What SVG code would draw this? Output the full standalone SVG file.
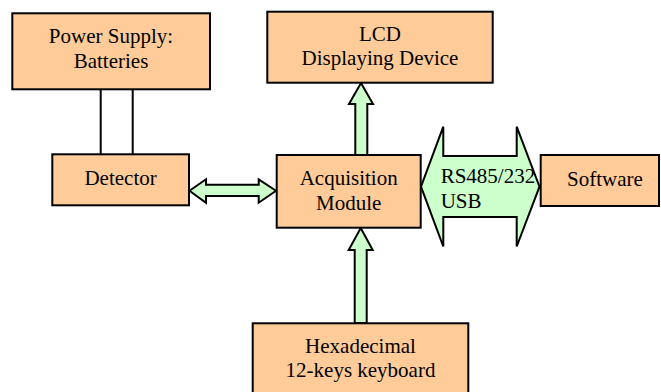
<svg xmlns="http://www.w3.org/2000/svg" width="661" height="392" viewBox="0 0 661 392">
<style>
.box{fill:#FFCC99;stroke:#000;stroke-width:2}
.arr{fill:#CCFFCC;stroke:#000;stroke-width:2;stroke-linejoin:miter}
.wire{fill:none;stroke:#000;stroke-width:2}
.c{text-anchor:middle}
</style>
<rect width="661" height="392" fill="#fff"/>
<g id="connectors">
<line class="wire" x1="100.7" y1="89" x2="100.7" y2="154"/>
<line class="wire" x1="132.7" y1="89" x2="132.7" y2="154"/>
<polygon class="arr" points="189.5,190.7 206,179.3 206,184.7 258.7,184.7 258.7,179.3 276,190.7 258.7,202.7 258.7,196 206,196 206,202.7"/>
<polygon class="arr" points="361,83 373,104 367.3,104 367.3,155 355.3,155 355.3,104 349,104"/>
<polygon class="arr" points="360.7,228 372.7,250 366.7,250 366.7,323 354.7,323 354.7,250 348.7,250"/>
<polygon class="arr" points="421,186.7 443.3,126.7 443.3,156 516.7,156 516.7,126.7 539.5,186.7 516.7,246.5 516.7,217 443.3,217 443.3,246.5"/>
</g>
<g id="power">
<rect class="box" x="12.3" y="13.3" width="197.7" height="76"/>
<text class="c" x="111" y="42.7" font-family="Liberation Serif" font-size="21">Power Supply:</text>
<text class="c" x="111" y="67.7" font-family="Liberation Serif" font-size="21">Batteries</text>
</g>
<g id="detector">
<rect class="box" x="52.3" y="154.3" width="136.7" height="51"/>
<text class="c" x="120.6" y="185" font-family="Liberation Serif" font-size="21">Detector</text>
</g>
<g id="lcd">
<rect class="box" x="267.3" y="11.7" width="225.4" height="71"/>
<text class="c" x="380" y="40.7" font-family="Liberation Serif" font-size="21">LCD</text>
<text class="c" x="380" y="65" font-family="Liberation Serif" font-size="21">Displaying Device</text>
</g>
<g id="acquisition">
<rect class="box" x="276.7" y="155" width="144" height="72.7"/>
<text class="c" x="348.7" y="185" font-family="Liberation Serif" font-size="21">Acquisition</text>
<text class="c" x="348.7" y="209.5" font-family="Liberation Serif" font-size="21">Module</text>
</g>
<g id="rs-label">
<text x="440.7" y="183.3" font-family="Liberation Serif" font-size="21">RS485/232</text>
<text x="440.7" y="208.3" font-family="Liberation Serif" font-size="21">USB</text>
</g>
<g id="software">
<rect class="box" x="540.7" y="155" width="118.3" height="51"/>
<text class="c" x="605" y="185.7" font-family="Liberation Serif" font-size="21">Software</text>
</g>
<g id="keyboard">
<rect class="box" x="252.7" y="323.3" width="215.6" height="75"/>
<text class="c" x="360.5" y="353" font-family="Liberation Serif" font-size="21">Hexadecimal</text>
<text class="c" x="360.5" y="376.7" font-family="Liberation Serif" font-size="21">12-keys keyboard</text>
</g>
</svg>
